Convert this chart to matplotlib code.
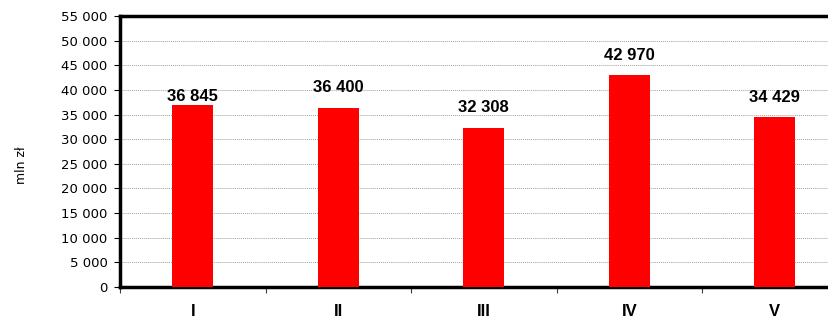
import matplotlib
matplotlib.use("Agg")
import matplotlib.pyplot as plt
from matplotlib.ticker import FuncFormatter, MultipleLocator

# Dane
months = ["I", "II", "III", "IV", "V"]
values = [36845, 36400, 32308, 42970, 34429]
label_offsets = [1, 9, 9, 9, 9]  # przesuniecie etykiet w punktach

def fmt(v, pos=None):
    return f"{int(v):,}".replace(",", " ")

fig = plt.figure(figsize=(8.29, 3.18), dpi=100)
ax = fig.add_axes([0.1448, 0.0975, 0.8776, 0.852])

x = range(len(months))
ax.bar(x, values, width=0.28, color="#ff0000", zorder=3)

for i, v in enumerate(values):
    ax.annotate(fmt(v), (i, v), xytext=(0, label_offsets[i]), textcoords="offset points",
                ha="center", va="bottom", fontsize=12, fontweight="bold",
                family="Liberation Sans")

ax.set_xlim(-0.5, len(months) - 0.5)
ax.set_ylim(0, 55000)
ax.yaxis.set_major_locator(MultipleLocator(5000))
ax.yaxis.set_major_formatter(FuncFormatter(fmt))
ax.grid(axis="y", color="#a0a0a0", linestyle=(0, (1, 1)), linewidth=0.7, zorder=0)

ax.set_xticks(list(x))
ax.set_xticklabels(months, fontsize=12, fontweight="bold", family="Liberation Sans")
ax.set_xticks([i + 0.5 for i in range(-1, len(months))], minor=True)
ax.tick_params(axis="x", which="major", length=0, pad=12)
ax.tick_params(axis="x", which="minor", length=4, width=0.8, color="#404040")
ax.tick_params(axis="y", length=4, width=0.8, labelsize=9.5, pad=5)

for side in ["left", "bottom", "top"]:
    ax.spines[side].set_linewidth(2.5)
ax.spines["right"].set_visible(False)

fig.text(0.026, 0.48, "mln zł", rotation=90, ha="center", va="center", fontsize=9)

fig.savefig("out.png", dpi=100)
